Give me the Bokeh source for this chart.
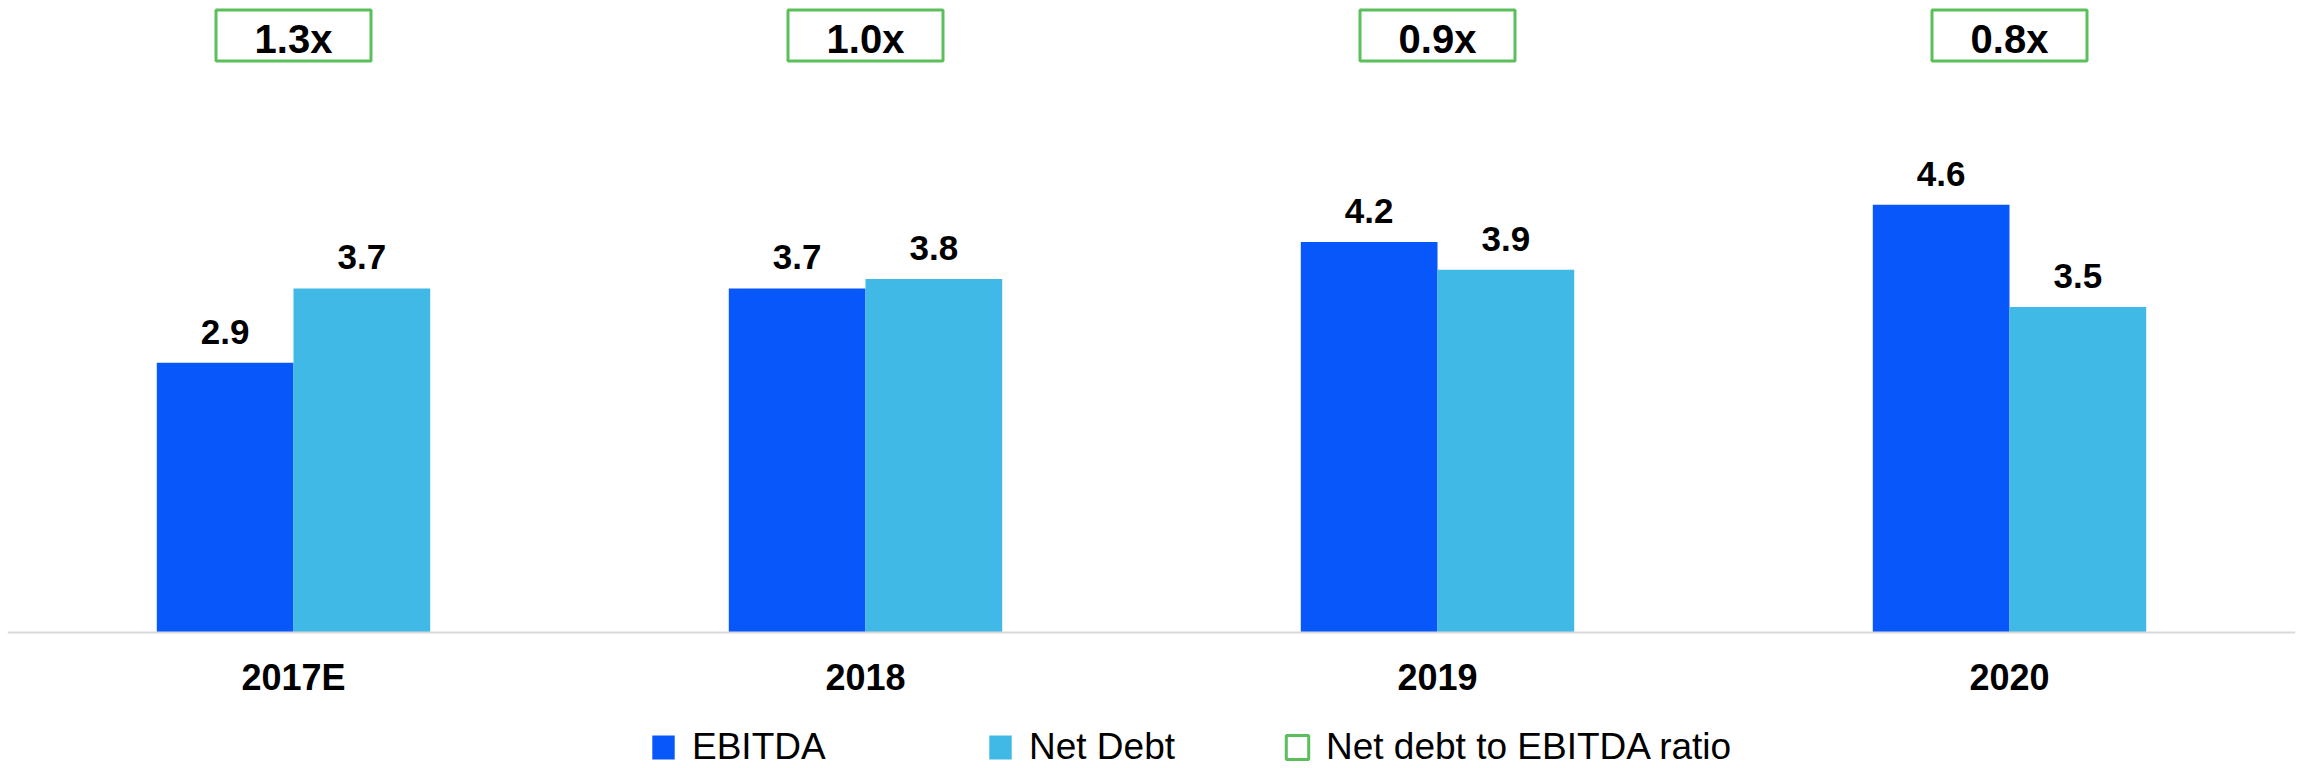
from bokeh.plotting import figure
from bokeh.models import ColumnDataSource, FactorRange, Range1d, LabelSet, Legend, LegendItem, Span
from bokeh.transform import dodge
from bokeh.embed import file_html
from bokeh.resources import INLINE
from bokeh.core.properties import value

# ---- data ----
years = ["2017E", "2018", "2019", "2020"]
ebitda = [2.9, 3.7, 4.2, 4.6]
net_debt = [3.7, 3.8, 3.9, 3.5]
ratio_labels = ["1.3x", "1.0x", "0.9x", "0.8x"]

# ---- style ----
EBITDA_C = "#0857FA"
NETDEBT_C = "#41B9E6"
GREEN = "#5BBF5B"
AXIS_C = "#D9D9D9"
FONT = value("Liberation Sans")

W, H = 2303, 768
BASE_PX = 632          # pixel row of the zero line (from top)
PX_PER_UNIT = 93.0
BW = 0.239
BOX_Y = (BASE_PX - 35) / PX_PER_UNIT

src = ColumnDataSource(dict(
    years=years,
    ebitda=ebitda,
    net_debt=net_debt,
    ebitda_lbl=[f"{v:.1f}" for v in ebitda],
    net_debt_lbl=[f"{v:.1f}" for v in net_debt],
    ratio=ratio_labels,
))

p = figure(
    x_range=FactorRange(*years, range_padding=0),
    y_range=Range1d(-(H - BASE_PX) / PX_PER_UNIT, BASE_PX / PX_PER_UNIT),
    width=W, height=H,
    output_backend="svg", toolbar_location=None,
    min_border_left=7, min_border_right=8, min_border_top=0, min_border_bottom=0,
)
p.outline_line_color = None
p.xgrid.grid_line_color = None
p.ygrid.grid_line_color = None
p.xaxis.visible = False
p.yaxis.visible = False
p.background_fill_color = "white"
p.border_fill_color = "white"

# zero line (category axis line)
p.add_layout(Span(location=0, dimension="width", line_color=AXIS_C, line_width=2))

r1 = p.vbar(x=dodge("years", -BW / 2, range=p.x_range), top="ebitda", width=BW,
            source=src, fill_color=EBITDA_C, line_color=None)
r2 = p.vbar(x=dodge("years", BW / 2, range=p.x_range), top="net_debt", width=BW,
            source=src, fill_color=NETDEBT_C, line_color=None)

for col, lbl, off in (("ebitda", "ebitda_lbl", -BW / 2), ("net_debt", "net_debt_lbl", BW / 2)):
    p.add_layout(LabelSet(
        x=dodge("years", off, range=p.x_range), y=col, text=lbl, source=src,
        y_offset=19, text_align="center", text_baseline="alphabetic",
        text_font=FONT, text_font_style="bold", text_font_size="35px", text_color="black",
    ))

# category labels
p.add_layout(LabelSet(
    x="years", y=0, text="years", source=src, y_offset=-57,
    text_align="center", text_baseline="alphabetic",
    text_font=FONT, text_font_style="bold", text_font_size="36px", text_color="black",
))

# ratio boxes
r3 = p.rect(x="years", y=BOX_Y, width=155, height=51, width_units="screen", height_units="screen",
            source=src, fill_color="white", line_color=GREEN, line_width=3)
p.add_layout(LabelSet(
    x="years", y=BOX_Y, text="ratio", source=src, y_offset=-17,
    text_align="center", text_baseline="alphabetic",
    text_font=FONT, text_font_style="bold", text_font_size="40px", text_color="black",
))


def mk_legend(label, rend, x):
    lg = Legend(items=[LegendItem(label=label, renderers=[rend])], location=(x, 0),
                orientation="horizontal", padding=0, margin=0, spacing=0,
                border_line_color=None, background_fill_alpha=0,
                glyph_width=28, glyph_height=30, label_standoff=15, label_height=30,
                label_text_font="Liberation Sans", label_text_font_size="37px",
                label_text_color="black")
    p.add_layout(lg, "center")


mk_legend("EBITDA", r1, 642)
mk_legend("Net Debt", r2, 979)
mk_legend("Net debt to EBITDA ratio", r3, 1276)

open("out.html", "w").write(file_html(p, INLINE))
